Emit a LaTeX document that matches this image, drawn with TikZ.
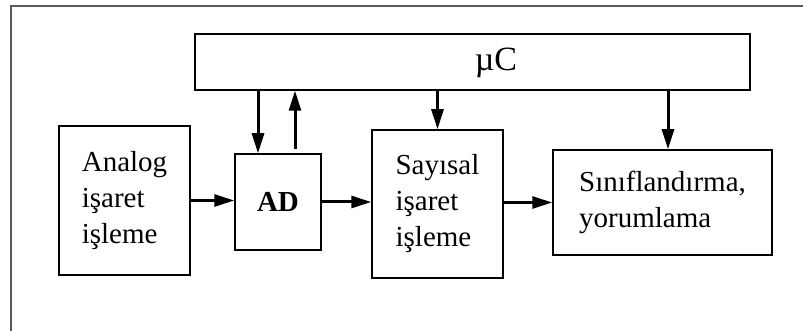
\documentclass[tikz,border=0pt]{standalone}
\usepackage{fontspec}
\setmainfont{Liberation Serif}
\usetikzlibrary{arrows.meta}
\usetikzlibrary{calc}

\begin{document}
\begin{tikzpicture}[x=1pt, y=-1pt,
    blok/.style={draw, line width=1.5pt, inner sep=0pt, align=left, font=\fontsize{29}{36}\selectfont},
    ok/.style={line width=3pt, -{Triangle[length=20pt, width=12pt]}}]
      \useasboundingbox (0, 0) rectangle (803, 331);
      \draw[line width=2pt, black!65] (11, 331) -- (11, 6) -- (803, 6);

      \node[blok, minimum width=555, minimum height=56] (uc) at (472.5, 62) {};
      \node[font=\fontsize{34}{40}\selectfont, inner sep=0pt] (uctext) at (496, 63) {µC};

      \node[blok, minimum width=131, minimum height=149] (an) at (124.5, 200.5) {Analog\\işaret\\işleme};
      \node[blok, minimum width=86, minimum height=96, font=\fontsize{29}{36}\selectfont\bfseries] (ad) at (278, 202) {AD};
      \node[blok, minimum width=131, minimum height=148] (say) at (437.5, 204) {Sayısal\\işaret\\işleme};
      \node[blok, minimum width=219, minimum height=105] (sin) at (662.5, 202.5) {Sınıflandırma,\\yorumlama};

      \draw[ok] (an.east) -- (an.east -| ad.west);
      \draw[ok] (ad.east) -- (ad.east -| say.west);
      \draw[ok] (say.east |- sin.west) -- (sin.west);

      \draw[ok] ([xshift=-20pt]ad.north |- uc.south) -- ([xshift=-20pt]ad.north);
      \draw[ok, shorten <=4pt] ([xshift=17pt]ad.north) -- ([xshift=17pt]ad.north |- uc.south);
      \draw[ok] (say.north |- uc.south) -- (say.north);
      \draw[ok] ([xshift=5.5pt]sin.north |- uc.south) -- ([xshift=5.5pt]sin.north);
    \end{tikzpicture}
\end{document}
